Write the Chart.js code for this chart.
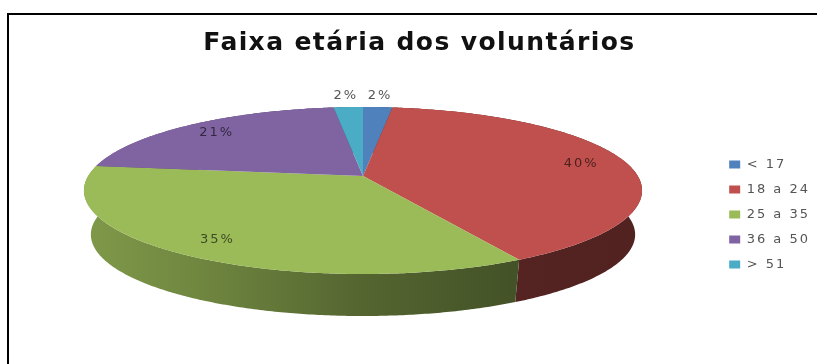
<!DOCTYPE html>
<html lang="pt">
<head>
<meta charset="utf-8">
<title>Faixa etária dos voluntários</title>
<script src="https://cdn.jsdelivr.net/npm/chart.js@4/dist/chart.umd.min.js"></script>
<style>
    html,body{margin:0;padding:0;background:#fff;overflow:hidden}
    #grafico{position:absolute;left:0;top:0}
    #marco{position:absolute;left:7px;top:13px;right:0;bottom:0;border-left:2px solid #000;border-top:2px solid #000}
</style>
</head>
<body>
<div id="marco"></div>
<canvas id="grafico" width="817" height="364"></canvas>
<script>
const faixas=['< 17','18 a 24','25 a 35','36 a 50','> 51']
const percentuais=[2,40,35,21,2]
const cores=['#4F81BD','#C0504D','#9BBB59','#8064A2','#4BACC6']
const titulo='Faixa etária dos voluntários'

// tampa e base da pizza vistas em perspectiva
const tampa={cx:363,cy:176,ax:274.8,ay:81}
const base={cx:363,cy:220.4,ax:268,ay:79}
const fuga=0.1737

function projetar(plano,angulo,raio){
    const u=Math.cos(angulo)*raio
    const v=Math.sin(angulo)*raio
    const w=1-fuga*v
    return {x:plano.cx+plano.ax*u/w,y:plano.cy+plano.ay*v/w}
}

function contorno(plano,inicio,fim){
    const passos=Math.max(2,Math.ceil((fim-inicio)/0.01))
    const pontos=[]
    for(let i=0;i<=passos;i++){
        pontos.push(projetar(plano,inicio+(fim-inicio)*i/passos,1))
    }
    return pontos
}

function escurecer(hex,fator){
    const n=parseInt(hex.slice(1),16)
    const r=Math.round((n>>16&255)*fator)
    const g=Math.round((n>>8&255)*fator)
    const b=Math.round((n&255)*fator)
    return `rgb(${r},${g},${b})`
}

function gradienteLateral(ctx,cor){
    const g=ctx.createLinearGradient(84,0,642,0)
    g.addColorStop(0,escurecer(cor,0.82))
    g.addColorStop(0.2,escurecer(cor,0.72))
    g.addColorStop(0.5,escurecer(cor,0.54))
    g.addColorStop(0.77,escurecer(cor,0.44))
    g.addColorStop(1,escurecer(cor,0.42))
    return g
}

function caminho(ctx,pontos){
    ctx.beginPath()
    pontos.forEach((p,i)=>i?ctx.lineTo(p.x,p.y):ctx.moveTo(p.x,p.y))
    ctx.closePath()
}

const pizza3d={
    id:'pizza3d',
    beforeUpdate(chart){
        chart.ctx.letterSpacing='2px'
    },
    // o titulo usa um espacamento menor que a legenda
    afterLayout(chart){
        const bloco=chart.titleBlock
        if(bloco.desenharOriginal) return
        bloco.desenharOriginal=bloco.draw
        bloco.draw=function(){
            chart.ctx.letterSpacing='1.4px'
            bloco.desenharOriginal()
            chart.ctx.letterSpacing='2px'
        }
    },
    // os angulos vem dos arcos calculados pelo Chart.js
    beforeDatasetsDraw(chart){
        const ctx=chart.ctx
        const arcos=chart.getDatasetMeta(0).data

        ctx.save()
        arcos.forEach((arco,i)=>{
            const lado=contorno(tampa,arco.startAngle,arco.endAngle)
            const fundo=contorno(base,arco.startAngle,arco.endAngle).reverse()
            caminho(ctx,lado.concat(fundo))
            ctx.fillStyle=gradienteLateral(ctx,cores[i])
            ctx.fill()
        })
        arcos.forEach((arco,i)=>{
            caminho(ctx,[{x:tampa.cx,y:tampa.cy}].concat(contorno(tampa,arco.startAngle,arco.endAngle)))
            ctx.fillStyle=cores[i]
            ctx.fill()
        })

        ctx.font='13px "DejaVu Sans"'
        ctx.textAlign='center'
        ctx.textBaseline='middle'
        arcos.forEach((arco,i)=>{
            const meio=(arco.startAngle+arco.endAngle)/2
            const pequena=percentuais[i]<5
            const p=projetar(tampa,meio,pequena?1.2:0.83)
            ctx.fillStyle=pequena?'#555':escurecer(cores[i],0.4)
            ctx.fillText(percentuais[i]+'%',p.x,p.y)
        })
        ctx.restore()
        return false
    }
}

new Chart(document.getElementById('grafico'),{
    type:'pie',
    data:{
        labels:faixas,
        datasets:[{data:percentuais,backgroundColor:cores,borderWidth:0}]
    },
    plugins:[pizza3d],
    options:{
        responsive:false,
        animation:false,
        layout:{padding:{left:19,right:-3,top:28,bottom:47}},
        plugins:{
            tooltip:{enabled:false},
            title:{
                display:true,
                text:titulo,
                color:'#111',
                font:{family:'"DejaVu Sans"',size:25,weight:'bold'},
                padding:{top:0,bottom:54}
            },
            legend:{
                position:'right',
                fullSize:false,
                labels:{
                    boxWidth:11,
                    boxHeight:8,
                    padding:12,
                    color:'#555',
                    font:{family:'"DejaVu Sans"',size:13}
                }
            }
        }
    }
})
</script>
</body>
</html>
